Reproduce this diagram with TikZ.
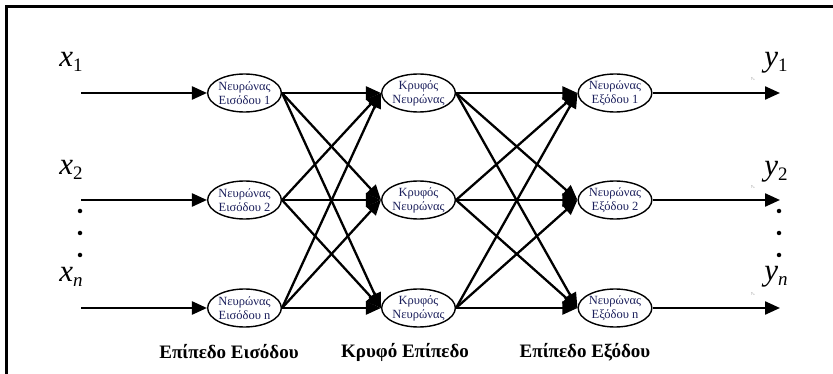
\documentclass[tikz,border=0pt]{standalone}
\usepackage{fontspec}
\setmainfont{Liberation Serif}
\usetikzlibrary{arrows.meta,shapes.geometric}
\definecolor{neurontext}{RGB}{28,32,92}
\begin{document}
\begin{tikzpicture}[x=1pt,y=-1pt,
  neuron/.style={draw, ellipse, line width=1.4pt, minimum width=67pt, minimum height=38pt,
    inner sep=0pt, align=center, text=neurontext,
    font=\fontsize{12.5}{14}\selectfont},
  link/.style={line width=2.3pt, -{Triangle[length=15pt,width=13pt]}},
  varlabel/.style={font=\fontsize{31}{31}\selectfont\itshape, inner sep=0pt},
  sub/.style={},
  layerlabel/.style={font=\fontsize{19}{19}\selectfont\bfseries, inner sep=0pt},
  vdot/.style={circle, fill=black, inner sep=0pt, minimum size=4.5pt},
  tinylabel/.style={font=\fontsize{4}{4}\selectfont, text=gray, inner sep=0pt}]
\useasboundingbox (0,0) rectangle (833,374);
% frame
\draw[line width=3pt] (6.5,374) -- (6.5,6.5) -- (833,6.5);

% neurons
\foreach \r/\y/\lab in {1/93/1, 2/200/2, n/308/n}{
  \node[neuron] (in\r) at (244.5,\y) {Νευρώνας\\Εισόδου \lab};
  \node[neuron] (hid\r) at (418.5,\y) {Κρυφός\\Νευρώνας};
  \node[neuron] (out\r) at (615,\y) {Νευρώνας\\Εξόδου \lab};
  \coordinate (src\r) at (81,\y);
  \coordinate (dst\r) at (780,\y);
}

% input and output arrows
\foreach \r in {1,2,n}{
  \draw[link] (src\r) -- (in\r.west);
  \draw[link] (out\r.east) -- (dst\r);
}

% fully connected layers
\foreach \a in {1,2,n}{
  \foreach \b in {1,2,n}{
    \draw[link] (in\a.east) -- (hid\b.west);
    \draw[link] (hid\a.east) -- (out\b.west);
  }
}

% input labels
\node[varlabel] (x1) at (71,62) {x\raisebox{-0.3ex}{\upshape\fontsize{19}{19}\selectfont 1}};
\node[varlabel] (x2) at (71,170) {x\raisebox{-0.3ex}{\upshape\fontsize{19}{19}\selectfont 2}};
\node[varlabel] (xn) at (71,277) {x\raisebox{-0.3ex}{\fontsize{19}{19}\selectfont n}};

% output labels
\node[varlabel] (y1) at (776,63) {y\raisebox{-0.3ex}{\upshape\fontsize{19}{19}\selectfont 1}};
\node[varlabel] (y2) at (776,172) {y\raisebox{-0.3ex}{\upshape\fontsize{19}{19}\selectfont 2}};
\node[varlabel] (yn) at (776,277) {y\raisebox{-0.3ex}{\fontsize{19}{19}\selectfont n}};

% small marks beside the output arrows
\node[tinylabel] (t1) at (753,79) {y\textsubscript{n}};
\node[tinylabel] (t2) at (753,187) {y\textsubscript{n}};
\node[tinylabel] (tn) at (753,294) {y\textsubscript{n}};

% ellipsis dots
\foreach \yy [count=\i] in {211,233,255}{
  \node[vdot] (ld\i) at (80,\yy) {};
  \node[vdot] (rd\i) at (779,\yy) {};
}

% layer names
\node[layerlabel] (L1) at (229,352) {Επίπεδο Εισόδου};
\node[layerlabel] (L2) at (405,352) {Κρυφό Επίπεδο};
\node[layerlabel] (L3) at (585,352) {Επίπεδο Εξόδου};
\end{tikzpicture}
\end{document}
